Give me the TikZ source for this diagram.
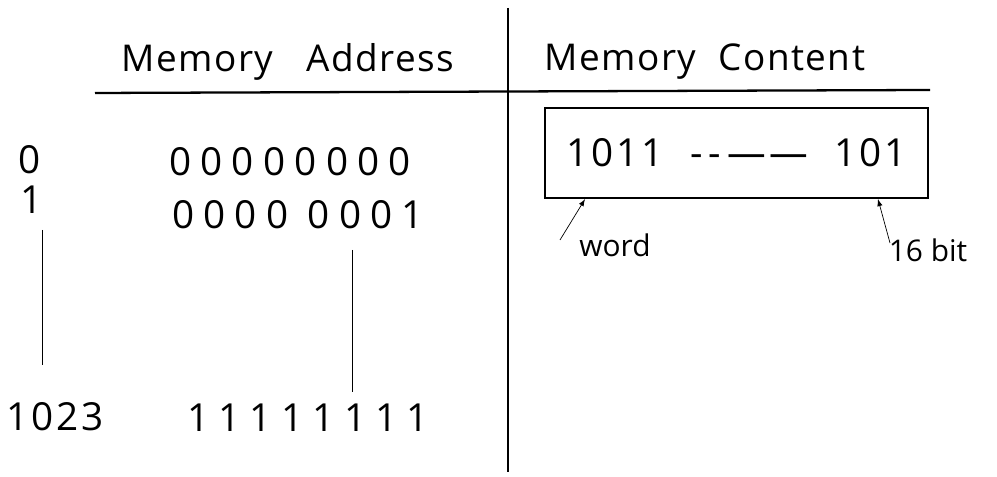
\documentclass[tikz,border=0pt]{standalone}
\usepackage{fontspec}
\setmainfont{Open Sans}
\usetikzlibrary{calc, arrows.meta, positioning}

\begin{document}
\begin{tikzpicture}[auto, >=latex, node distance = 1 cm]
					\tikzstyle{head} = [font=\fontsize{21}{24}\selectfont\addfontfeatures{LetterSpace=4}]
					\tikzstyle{bits} = [font=\fontsize{22}{26}\selectfont\addfontfeatures{LetterSpace=24}]
					\tikzstyle{idx} = [font=\fontsize{22}{26}\selectfont\addfontfeatures{LetterSpace=8}]
					\tikzstyle{note} = [font=\fontsize{17}{20}\selectfont]
					\tikzstyle{rule} = [line width=1.3pt, black]
					
					\useasboundingbox (0, 0) rectangle (19.94, 9.54);
					
					\node[head] 	at (5.76, 8.30)		(qa)	{Memory \ \ Address};
					\node[head]	at (14.10, 8.30)		(qc)	{Memory \ Content};
					
					\coordinate (t) at (10.16, 9.38);
					\coordinate (b) at (10.16, 0.10);
					\coordinate (l) at (1.90, 7.68);
					\coordinate (r) at (18.60, 7.74);
					
					\node[idx] 	at (0.60, 6.34) 		(a0) 	{0};
					\node[idx] 	at (0.64, 5.54) 		(a1) 	{1};
					\node[idx] 	at (1.10, 1.20) 		(a2) 	{1023};
					
					\node[bits] 	at (5.80, 6.30) 		(b0) 	{00000000};
					\node[bits] 	at (5.96, 5.24) 		(b1) 	{0000 0001};
					\node[bits] 	at (6.16, 1.18) 		(b2) 	{11111111};
					
					\coordinate (p0) at (0.84, 4.94);
					\coordinate (p1) at (0.84, 2.24);
					\coordinate (m0) at (7.04, 4.54);
					\coordinate (m1) at (7.04, 1.70);
					
					\node[rule, draw, rectangle, minimum width=7.66cm, minimum height=1.8cm, idx]
					                at (14.73, 6.48) 	(w) 	{1011 \ -\,-\,------ \ 101};
					
					\node[note] 	at (12.30, 4.64) 		(n1) 	{word};
					\node[note] 	at (18.56, 4.54) 		(n2) 	{16 bit};
					\coordinate (e1) at (11.20, 4.74);
					\coordinate (e2) at (17.80, 4.68);
					
					\path[rule]
					(t)	edge	(b)
					(l)	edge	(r);
					
					\path[-, thin]
					(p0)	edge	(p1)
					(m0)	edge	(m1);
					
					\path[->, thin]
					(e1)	edge	(w.south west -| 11.70, 0)
					(e2)	edge	(w.south east -| 17.56, 0);
				\end{tikzpicture}
\end{document}
